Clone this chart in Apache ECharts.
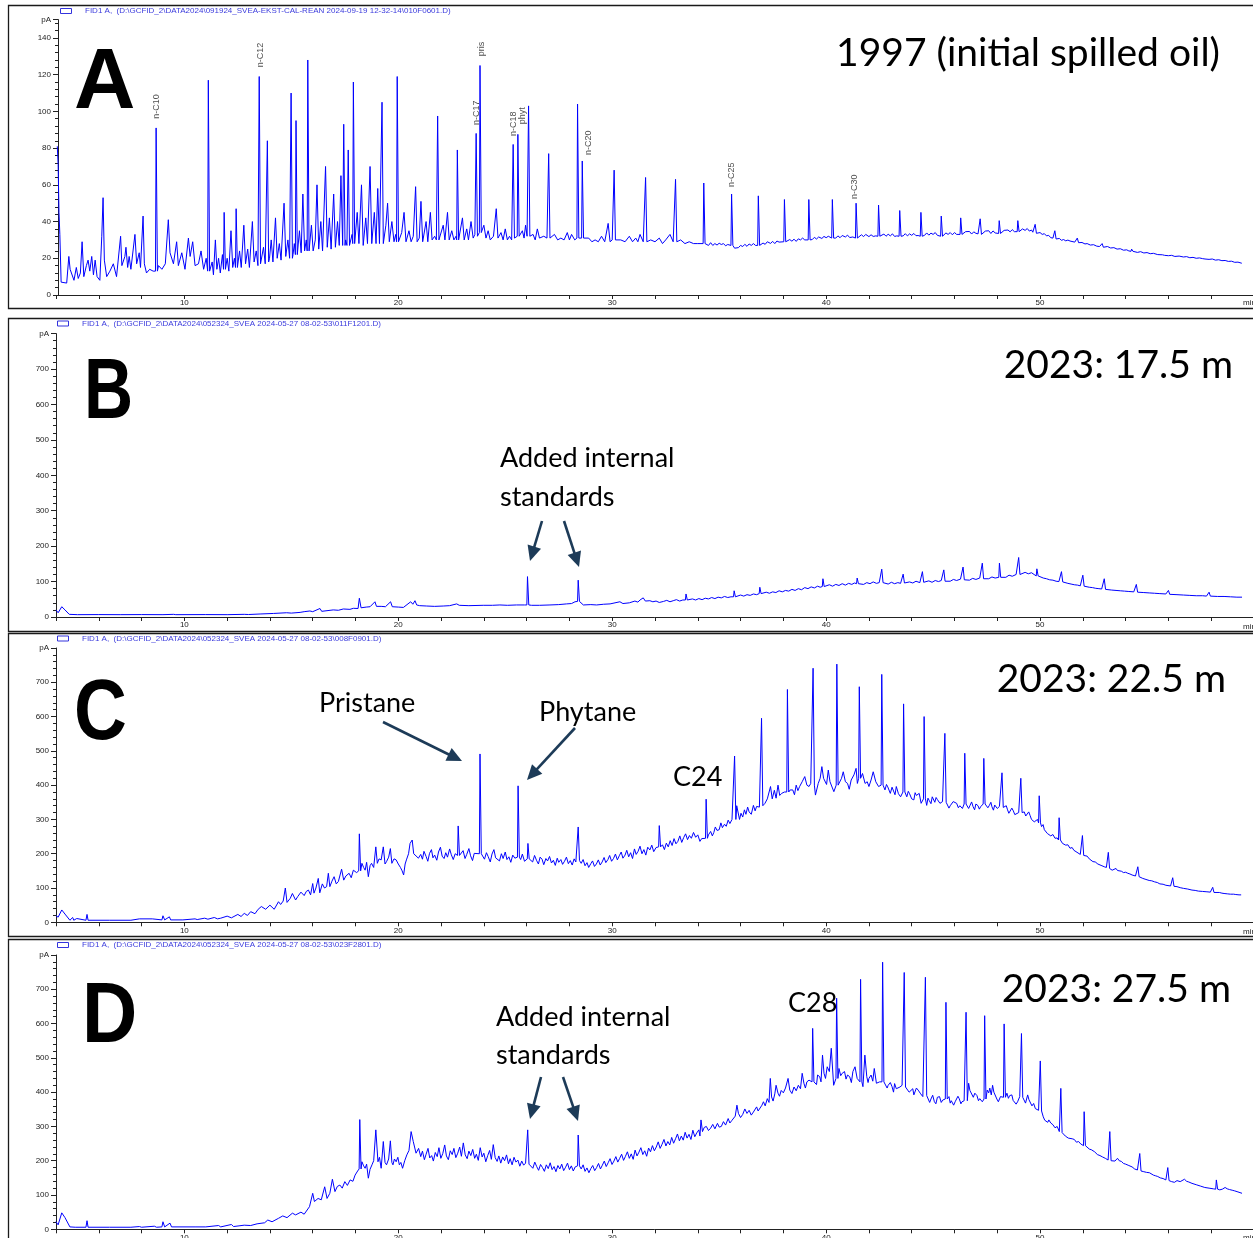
<!DOCTYPE html>
<html><head><meta charset="utf-8">
<script src="https://cdn.jsdelivr.net/npm/echarts@6/dist/echarts.min.js"></script>
<style>html,body{margin:0;padding:0;background:#fff}#c{width:1253px;height:1238px}</style>
</head><body><div id="c"></div>
<script>
// ---------- DATA ----------
const panelLetters = ['A', 'B', 'C', 'D'];
const panelTitles = ['1997 (initial spilled oil)', '2023: 17.5 m', '2023: 22.5 m', '2023: 27.5 m'];
const headerTexts = [
  'FID1 A,  (D:\\GCFID_2\\DATA2024\\091924_SVEA-EKST-CAL-REAN 2024-09-19 12-32-14\\010F0601.D)',
  'FID1 A,  (D:\\GCFID_2\\DATA2024\\052324_SVEA 2024-05-27 08-02-53\\011F1201.D)',
  'FID1 A,  (D:\\GCFID_2\\DATA2024\\052324_SVEA 2024-05-27 08-02-53\\008F0901.D)',
  'FID1 A,  (D:\\GCFID_2\\DATA2024\\052324_SVEA 2024-05-27 08-02-53\\023F2801.D)'
];
const xMin = 4, xMax = 60, xInterval = 2;
const yMaxA = 150, yIntervalA = 20;
const yMaxBCD = 800, yIntervalBCD = 100;

// baseline traces [time (min), signal (pA)]
const baseA = [
[4.06,81],[4.1,71],[4.14,45],[4.18,33],[4.24,7],[4.5,6.5],[4.6,21],[4.66,14],[4.74,13],[4.84,8],[4.95,15],[5.04,9],[5.14,12],[5.22,29],[5.3,10],[5.42,16],[5.5,19],[5.58,13],[5.67,21],[5.75,11],[5.83,19],[5.92,10],[6.05,8],[6.14,32],[6.2,53],[6.26,19],[6.37,10],[6.52,13],[6.68,17],[6.83,10],[7.02,32],[7.08,16],[7.22,21],[7.27,26],[7.35,15],[7.42,21],[7.5,14],[7.69,33],[7.77,17],[7.89,23],[7.95,15],[8.07,43],[8.13,17],[8.23,12],[8.38,14],[8.54,13],[8.79,16],[8.95,14],[9.11,17],[9.25,41],[9.33,23],[9.49,17],[9.64,29],[9.72,16],[9.88,23],[10.03,14],[10.19,31],[10.27,21],[10.39,29],[10.5,16],[10.66,17],[10.78,24],[10.9,14],[11.02,20],
[11.22,12],[11.3,18],[11.36,11],[11.45,30],[11.52,14],[11.6,20],[11.68,12],[11.78,22],[11.94,14],[12.0,20],[12.08,13],[12.18,35],[12.26,15],[12.34,20],[12.5,14],[12.58,24],[12.66,15],[12.78,38],[12.86,17],[12.96,25],[13.04,15],[13.18,40],[13.26,18],[13.36,24],[13.44,16],[13.6,18],[13.7,26],[13.78,17],[13.98,20],[14.06,30],[14.14,18],[14.26,42],[14.34,20],[14.44,28],[14.52,19],[14.66,50],[14.74,21],[14.84,30],[14.92,20],[15.08,22],[15.14,28],[15.3,22],[15.38,35],[15.46,23],[15.54,55],[15.62,24],[15.7,30],[15.86,25],[15.94,38],[16.02,24],[16.12,30],[16.2,60],[16.28,25],[16.38,40],[16.46,24],[16.6,70],[16.68,26],[16.78,42],[16.86,25],[16.98,55],[17.06,26],[17.16,40],[17.24,27],[17.32,65],[17.4,27],[17.54,30],[17.6,27],[17.76,28],[17.84,33],[17.98,28],[18.08,45],[18.16,28],[18.28,60],[18.36,27],[18.48,42],[18.56,28],[18.68,70],[18.76,28],[18.88,45],[18.96,28],[19.04,58],[19.12,28],[19.34,29],[19.42,38],[19.5,50],[19.58,29],[19.7,40],[19.8,29],[19.88,33],[20.06,29],[20.16,34],[20.27,45],[20.36,29],[20.5,35],[20.6,29],[20.7,32],[20.81,59],[20.88,29],[20.98,31],[21.06,51],[21.14,29],[21.3,40],[21.38,29],[21.5,45],[21.58,30],[21.7,32],[21.78,30],[21.96,30],[22.1,38],[22.18,30],[22.3,45],[22.38,30],[22.5,35],[22.6,30],[22.7,32],[22.86,30],[23.0,42],[23.08,30],[23.2,36],[23.28,30],[23.4,40],[23.5,31],[23.58,33],[23.92,33],[24.0,38],[24.1,31],[24.2,35],[24.3,30],[24.45,32],[24.58,47],[24.66,31],[24.8,34],[24.9,30],[25.0,36],[25.1,30],[25.2,32],[25.3,30],[25.7,31],[25.8,35],[25.88,31],[25.95,38],[26.02,32],[26.2,31],[26.3,33],[26.4,30],[26.5,36],[26.6,31],[26.8,32],[26.95,31],[27.12,31],[27.3,33],[27.45,30],[27.6,31],[27.75,30],[27.9,34],[28.0,30],[28.1,33],[28.25,30],[28.72,30],[28.9,31],[29.05,29],[29.2,30],[29.35,29],[29.5,32],[29.65,29],[29.81,39],[29.9,29],[30.0,30],[30.2,29],[30.4,30],[30.6,29],[30.8,32],[30.95,29],[31.1,31],[31.2,29],[31.3,33],[31.45,29],[31.68,29],[31.8,30],[32.0,29],[32.2,31],[32.35,28],[32.5,30],[32.7,33],[32.85,29],[33.08,29],[33.2,30],[33.4,28],[33.6,29],[33.8,28],[34.0,28],[34.15,28],
[34.4,28],[34.5,27],[34.6,28.5],[34.7,27],[34.8,28],[34.9,27.2],[35.0,28.2],[35.1,27.5],[35.2,28],[35.3,26.8],[35.4,27.5],[35.72,25.5],[35.8,26.5],[35.9,25.8],[36.0,27],[36.1,26.4],[36.2,27.6],[36.3,26.5],[36.4,27.8],[36.5,27],[36.6,28],[36.7,27],[36.96,27],[37.05,28.3],[37.15,27.6],[37.25,29],[37.4,28.1],[37.5,29.2],[37.6,28],[37.7,29.4],[37.8,28.8],[38.2,29],[38.3,30.2],[38.4,29.3],[38.5,30.4],[38.6,29.2],[38.7,30.6],[38.8,30],[38.9,31],[39.0,30],[39.35,30.2],[39.45,31.4],[39.55,30.5],[39.65,31.6],[39.8,30.8],[39.9,31.9],[40.0,31.2],[40.1,32],[40.15,31],[40.45,31],[40.55,32.2],[40.65,31.2],[40.75,32.4],[40.9,31.6],[41.0,32.6],[41.1,31.3],[41.25,31.6],[41.55,31.5],[41.65,32.8],[41.75,31.8],[41.85,33],[42.0,31.8],[42.1,32.8],[42.2,31.9],[42.32,32.2],[42.6,32],[42.7,33.2],[42.8,32],[42.9,33.1],[43.0,32.2],[43.1,33.3],[43.2,31.9],[43.3,32.2],[43.6,32.2],[43.7,33.4],[43.8,32.2],[43.9,33.3],[44.0,32.5],[44.1,33.5],[44.2,32.3],[44.3,32.4],[44.6,32.5],[44.7,33.8],[44.8,32.6],[44.9,33.7],[45.0,33],[45.1,34],[45.2,32.5],[45.26,32.5],[45.5,32.4],[45.6,33.8],[45.7,33],[45.8,34],[45.9,32.8],[46.0,34],[46.1,33],[46.18,33],[46.42,33.2],[46.52,34.5],[46.6,33.5],[46.7,34.6],[46.8,33.2],[46.9,34.4],[47.0,33.6],[47.1,33.3],[47.34,33.4],[47.44,34.8],[47.5,33.9],[47.6,35],[47.7,33.5],[47.8,34.9],[47.9,33.8],[47.98,33.5],[48.22,33.8],[48.32,35.2],[48.4,34.2],[48.5,35.4],[48.6,34.4],[48.7,35.6],[48.8,34.5],[48.86,34.5],[49.08,34.7],[49.18,36],[49.3,35.2],[49.4,36.2],[49.5,34.8],[49.6,35.4],[49.66,34.2],[49.9,33.2],[50.0,34],[50.1,33],[50.2,33.4],[50.3,32.2],[50.4,32.5],[50.5,31.2],[50.6,31],[50.8,30.2],[50.9,30.8],[51.0,29.8],[51.1,30.2],[51.2,29.5],[51.3,29.9],[51.4,29.4],[51.62,28.8],[51.86,28.2],[51.96,28.6],[52.1,27.8],[52.2,28],[52.35,27.2],[52.5,27.4],[52.65,26.6],[52.78,26.4],[53.0,26.2],[53.15,26.4],[53.3,25.6],[53.45,25.8],[53.6,25],[53.75,25.2],[53.9,24.4],[54.05,24.6],[54.15,24],[54.4,23.8],[54.55,23.2],[54.7,23.6],[54.85,22.9],[55.0,23.1],[55.15,22.5],[55.3,22.7],[55.5,22],[55.72,21.9],[56.0,21.4],[56.15,21.6],[56.3,21],[56.5,21.2],[56.7,20.7],[56.85,20.9],[57.0,20.3],[57.15,20.5],[57.3,20],[57.45,20.2],[57.6,19.8],[57.9,19.4],[58.05,19.6],[58.2,19],[58.35,19.2],[58.5,18.7],[58.65,18.8],[58.8,18.3],[58.95,18.4],[59.1,17.8],[59.25,17.9],[59.43,17.3]
];
// sharp peaks [time, apex, base]
const peaksA = [
[8.68,91,13],[11.12,117,13],[11.86,45,14],[12.42,47,15],[13.5,119,17],[13.88,84,18],[14.99,110,20],[15.22,95,22],[15.77,128,24],[17.45,93,27],[17.66,79,27],[17.9,116,28],[19.24,105,28],[19.95,119,29],[21.84,97.5,30],[22.76,79,30],[23.64,88,32],[23.82,125,34],[25.37,82,31],[25.59,87.5,32],[26.09,103,32],[27.03,77,31],[28.38,104,31],[28.6,73,31],[30.09,68,30],[31.56,64,29],[32.96,63,29],[34.28,61,28],[35.58,55,27],[36.83,54,27],[38.05,52,29],[39.19,52,30],[40.29,52,31],[41.40,50,31],[42.45,49,32],[43.44,46,32],[44.43,45,32],[45.38,43,32],[46.29,42,33],[47.20,41.5,33],[48.09,40.5,33.5],[48.96,40.5,34.5],[49.77,38.5,33.6],[50.69,35,30.5],[51.74,31,28.5],[52.9,28,26],[54.28,25,23.8],[55.85,22.5,21.6],[57.74,20.5,19.6]
];
// peak name labels of panel A [time, signal at label foot, name]
const labelsA = [[8.72,96,'n-C10'],[13.55,124,'n-C12'],[23.87,130,'pris'],[23.64,92.6,'n-C17'],[25.37,86.6,'n-C18'],[25.79,93,'phyt'],[28.87,76.3,'n-C20'],[35.59,58.8,'n-C25'],[41.34,52.3,'n-C30']];

const baseB = [
[4.0,20],[4.1,12],[4.27,29],[4.42,20],[4.62,7.5],[5.0,6.6],[6,6.8],[7,6.6],[8,6.8],[9,6.6],[9.5,7.5],[9.6,6.6],[11,6.8],[12,6.6],[12.8,7.5],[13.0,7],[13.54,8.5],[14.16,10],[14.78,12],[15.0,11],[15.41,13],[15.6,15],[15.87,17],[16.0,15],[16.34,24],[16.42,16],[16.96,20],[17.2,19],[17.43,22.6],[17.74,21.6],[17.9,24.5],[18.12,24],[18.18,53],[18.26,26],[18.5,28],[18.68,29],[18.91,43],[18.98,30],[19.2,30],[19.4,29],[19.64,43],[19.72,29],[20.0,28],[20.24,27],[20.58,43],[20.68,36],[20.78,46],[20.86,34],[21.0,32],[21.33,31],[21.7,30],[22.1,31],[22.4,32],[22.73,37],[22.85,33],[23.3,32],[23.97,33],[24.4,33],[24.75,34],[25.1,33],[25.53,34],[25.9,34],
[26.23,33],[26.6,33],[27.09,34],[27.5,35],[27.87,37],[28.1,38],[28.26,43],[28.52,48],[28.65,34],[29.0,35],[29.27,34],[29.6,36],[29.9,37],[30.36,43],[30.5,38],[30.8,40],[31.06,45],[31.2,42],[31.3,48],[31.45,54],[31.55,45],
[31.76,46],[31.9,43],[32.05,45],[32.2,41],[32.4,44],[32.55,47],[32.7,43],[32.85,46],[33.0,49],[33.15,45],[33.3,48],[33.6,47],[33.75,51],[33.9,48],[34.05,52],[34.2,49],[34.35,53],[34.5,51],[34.65,55],[34.8,52],[34.95,56],[35.1,54],[35.25,58],[35.4,55],[35.55,57],[35.85,58],[36.0,62],[36.15,59],[36.3,63],[36.45,61],[36.6,65],[36.75,63],[37.05,66],[37.2,70],[37.35,67],[37.5,71],[37.65,69],[37.8,74],[37.95,71],[38.1,75],[38.25,73],[38.4,78],[38.55,75],[38.7,80],[38.85,77],[39.0,83],[39.15,80],[39.3,85],[39.45,82],[39.6,87],[39.72,84],
[40.0,88],[40.15,91],[40.3,87],[40.45,92],[40.6,89],[40.75,94],[40.9,90],[41.05,95],[41.2,92],[41.32,96],[41.6,95],[41.75,92],[41.9,97],[42.05,94],[42.2,99],[42.35,95],[42.48,97],[42.75,96],[42.9,93],[43.05,98],[43.2,94],[43.35,97],[43.48,95],[43.75,94],[43.9,99],[44.05,96],[44.2,101],[44.38,97],[44.65,99],[44.8,102],[44.95,98],[45.1,103],[45.25,100],[45.38,103],[45.65,104],[45.8,101],[45.95,106],[46.1,103],[46.28,107],[46.55,107],[46.7,104],[46.85,109],[47.0,106],[47.18,110],[47.45,111],[47.6,108],[47.75,113],[47.9,110],[47.98,114],[48.25,115],[48.4,112],[48.55,118],[48.7,115],[48.88,120],[49.15,123],[49.3,126],[49.45,122],[49.6,125],[49.72,120],
[50.0,113],[50.15,110],[50.3,108],[50.45,105],[50.6,104],[50.75,101],[50.88,100],[51.15,97],[51.3,95],[51.45,93],[51.6,91],[51.75,90],[51.88,88],[52.15,86],[52.3,84],[52.45,83],[52.6,81],[52.75,80],[52.88,79],[53.15,77],[53.35,76],[53.55,75],[53.75,74],[53.95,73],[54.15,72],[54.38,71],[54.65,70],[54.85,69],[55.1,68],[55.35,67],[55.6,66],[55.88,65],[56.15,64],[56.4,63],[56.7,62],[57.0,61],[57.3,60],[57.6,60],[57.78,59],[58.05,59],[58.3,58],[58.6,58],[58.9,57],[59.2,56],[59.44,56]
];
const peaksB = [
[26.04,114,34],[28.41,104,44],[33.45,65,48],[35.7,74,57],[36.9,84,66],[39.85,108,86],[41.45,110,94],[42.6,135,97],[43.6,121,96],[44.5,128,98],[45.5,133,101],[46.4,141,105],[47.3,152,108],[48.1,152,112],[49.0,168,120],[49.85,136,116],[51.0,128,99],[52.0,118,87],[53.0,108,78],[54.5,92,70],[56.0,75,64],[57.9,70,59]
];

const baseC = [
[4.0,19],[4.1,15],[4.27,36],[4.42,24],[4.65,6],[4.78,14],[4.83,6],[4.97,11],[5.02,6],[5.4,6],[5.45,23],[5.5,6],[6.5,6],[7.5,6],[7.9,10],[7.95,6],[8.5,10],[8.55,6],[8.95,7],[9.0,19],[9.08,7],[9.3,16],[9.36,7],[9.93,7],[10.5,10],[10.6,8],[10.95,12],[11.1,9],[11.4,14],[11.55,10],[11.7,12],[12.0,18],[12.2,13],[12.5,23],[12.65,17],[12.8,26],[12.95,20],[13.1,31],[13.3,25],[13.45,38],[13.6,46],[13.8,38],[14.0,50],[14.2,38],[14.4,60],[14.5,52],[14.62,62],[14.72,100],[14.8,58],[14.95,70],[15.05,84],[15.2,65],[15.3,75],[15.45,88],[15.6,78],[15.7,90],[15.8,94],[15.9,80],[16.0,113],[16.06,85],[16.15,100],[16.26,128],[16.33,86],[16.45,112],[16.55,100],[16.65,104],[16.73,143],[16.8,104],[16.9,120],[17.0,133],[17.1,112],[17.2,119],[17.35,155],[17.45,123],[17.55,135],[17.7,143],[17.8,130],[17.9,152],[18.05,145],
[18.3,172],[18.38,160],[18.45,152],[18.52,175],[18.6,133],[18.68,165],[18.75,172],[18.85,160],[18.95,220],[19.02,172],[19.1,185],[19.2,182],[19.3,220],[19.38,170],[19.45,177],[19.55,190],[19.63,215],[19.7,172],[19.8,185],[19.9,182],[20.0,170],[20.1,160],[20.18,150],[20.25,138],[20.32,170],[20.38,182],[20.48,200],[20.55,230],[20.65,240],[20.72,200],[20.78,201],[20.94,187],
[21.05,198],[21.13,184],[21.2,207],[21.3,192],[21.38,178],[21.46,201],[21.55,212],[21.62,188],[21.7,196],[21.8,181],[21.88,205],[21.97,219],[22.05,193],[22.14,186],[22.22,203],[22.3,190],[22.4,214],[22.48,197],[22.57,183],[22.66,200],[22.95,192],[23.03,209],[23.12,186],[23.2,198],[23.3,215],[23.38,194],[23.47,180],[23.55,201],[23.64,206],[23.95,196],[24.03,184],[24.12,203],[24.2,192],[24.3,176],[24.38,199],[24.47,212],[24.55,188],[24.64,193],[24.73,179],[24.82,200],[24.9,186],[25.0,205],[25.08,183],[25.17,191],[25.26,175],[25.35,196],[25.45,187],[25.72,183],[25.8,199],[25.9,178],
[26.2,188],[26.28,176],[26.37,195],[26.46,181],[26.55,170],[26.63,190],[26.72,184],[26.8,168],[26.9,186],[26.98,179],[27.07,192],[27.16,173],[27.25,181],[27.34,166],[27.43,187],[27.5,175],[27.6,183],[27.68,169],[27.77,178],[27.86,190],[27.95,171],[28.04,180],[28.13,167],[28.22,185],[28.3,176],[28.55,172],[28.64,183],[28.73,165],[28.82,174],[28.9,160],[29.0,171],[29.08,179],[29.17,163],[29.26,170],[29.35,182],[29.44,167],[29.53,176],[29.62,189],[29.7,174],[29.8,183],[29.88,195],[29.97,178],[30.06,186],[30.15,199],[30.24,182],[30.33,194],[30.42,205],[30.5,187],[30.6,196],[30.68,210],[30.77,191],[30.86,203],[30.95,186],[31.04,214],[31.12,198],[31.21,207],[31.3,222],[31.39,200],[31.48,212],[31.57,196],[31.66,219],[31.76,211],[31.85,225],[31.94,206],[32.05,218],
[32.35,226],[32.44,212],[32.53,231],[32.62,220],[32.71,238],[32.8,224],[32.89,244],[32.98,229],[33.07,236],[33.16,252],[33.25,233],[33.34,247],[33.43,258],[33.52,241],[33.61,253],[33.7,245],[33.8,262],[33.9,248],[34.0,255],[34.1,236],[34.18,244],[34.5,255],[34.6,265],[34.68,252],[34.75,262],[34.82,278],[34.9,268],[35.0,270],[35.08,290],[35.15,276],[35.25,286],[35.33,280],[35.42,298],[35.5,288],[35.6,300],[35.82,340],[35.95,300],[36.02,318],[36.1,307],[36.18,328],[36.25,315],[36.33,336],[36.4,322],[36.5,315],[36.6,341],[36.68,325],[36.75,338],[36.88,336],
[37.14,347],[37.25,360],[37.4,396],[37.48,360],[37.58,385],[37.66,362],[37.75,400],[37.83,370],[37.92,376],[38.05,380],[38.32,386],[38.44,386],[38.52,372],[38.6,400],[38.68,384],[38.76,396],[38.88,410],[39.0,425],[39.1,400],[39.2,396],[39.28,405],[39.5,371],[39.63,405],[39.72,420],[39.8,454],[39.88,420],[39.95,425],[40.02,402],[40.1,444],[40.18,410],[40.27,405],[40.36,381],[40.62,396],[40.72,420],[40.8,439],[40.9,410],[41.0,405],[41.08,388],[41.17,415],[41.3,430],[41.4,449],[41.46,405],[41.7,434],[41.82,405],[41.92,410],[42.0,396],[42.1,415],[42.2,439],[42.32,410],[42.45,396],
[42.75,386],[42.82,402],[42.88,395],[43.0,376],[43.08,394],[43.15,390],[43.22,372],[43.28,396],[43.38,375],[43.48,366],[43.77,366],[43.84,382],[43.9,375],[44.0,360],[44.1,357],[44.16,378],[44.22,370],[44.35,376],[44.44,347],[44.7,341],[44.76,362],[44.82,355],[44.9,346],[44.96,366],[45.08,350],[45.14,364],[45.2,358],[45.32,347],[45.44,352],[45.69,347],[45.74,333],[45.8,340],[45.87,337],[45.94,352],[46.0,348],[46.1,347],[46.18,334],[46.25,340],[46.37,332],[46.6,347],[46.66,332],[46.72,340],[46.8,351],[46.87,337],[46.94,328],[47.0,345],[47.1,340],[47.16,330],[47.22,337],[47.5,347],[47.56,334],[47.62,340],[47.7,350],[47.75,337],[47.82,327],[47.88,342],[48.0,332],[48.1,338],[48.35,332],[48.42,340],[48.48,328],[48.54,318],[48.6,322],[48.68,333],[48.75,325],[48.82,314],[48.9,317],[49.0,320],[49.26,322],[49.33,310],[49.4,315],[49.47,322],[49.53,312],[49.6,300],[49.66,305],[49.73,293],[49.8,298],[49.88,300],
[50.07,279],[50.14,285],[50.2,270],[50.27,274],[50.34,259],[50.42,262],[50.5,252],[50.6,256],[50.7,245],[50.8,246],[51.05,230],[51.12,234],[51.2,225],[51.3,226],[51.4,216],[51.5,218],[51.58,210],[51.68,206],[51.76,201],[51.88,198],[52.12,191],[52.2,193],[52.3,185],[52.38,186],[52.47,177],[52.58,176],[52.7,170],[52.78,171],[52.85,166],[53.0,162],[53.1,160],[53.37,152],[53.55,157],[53.62,151],[53.7,148],[53.8,149],[53.9,145],[54.0,146],[54.1,143],[54.2,141],[54.3,138],[54.46,135],[54.8,128],[54.95,125],[55.1,122],[55.22,121],[55.35,118],[55.48,116],[55.6,112],[55.75,111],[55.88,108],[56.1,106],[56.4,104],[56.55,101],[56.7,99],[56.9,97],[57.1,94],[57.25,93],[57.4,91],[57.6,90],[57.8,89],[57.96,88],[58.38,87],[58.5,85],[58.6,84],[58.75,83],[58.9,82],[59.05,82],[59.15,81],[59.3,80],[59.4,80]
];
const peaksC = [
[18.18,258,150],[22.8,281,195],[23.82,491,200],[25.6,398,190],[26.06,230,185],[28.41,278,180],[32.2,282,220],[34.39,359,245],[35.72,485,300],[36.98,595,340],[38.19,679,380],[39.39,741,400],[40.5,753,400],[41.55,687,420],[42.6,723,400],[43.62,637,380],[44.58,600,360],[45.55,551,350],[46.48,493,345],[47.37,478,345],[48.22,436,335],[49.1,420,320],[49.96,369,290],[50.89,305,240],[51.98,253,195],[53.19,204,157],[54.57,162,133],[56.2,130,105],[58.07,102,87]
];

const baseD = [
[4.0,22],[4.1,13],[4.27,48],[4.42,34],[4.65,7],[4.9,6],[5.4,6],[5.45,25],[5.5,6],[6.5,6],[7.5,6],[7.9,8],[8.0,6],[8.6,9],[8.7,6],[8.95,7],[9.0,22],[9.08,7],[9.33,18],[9.4,7],[10.5,7],[11.0,7],[11.6,11],[11.7,7],[12.2,14],[12.3,8],[12.8,12],[13.1,11],[13.4,16],[13.75,19],[13.9,27],[14.1,22],[14.4,32],[14.6,39],[14.8,34],[15.05,47],[15.2,42],[15.45,50],[15.6,44],[15.85,66],[16.0,105],[16.08,81],[16.25,90],[16.4,86],[16.56,124],[16.67,90],[16.8,105],[16.92,146],[17.04,110],[17.15,125],[17.27,129],[17.38,120],[17.5,139],[17.62,128],[17.75,144],[17.88,140],[17.98,158],[18.1,170],
[18.3,197],[18.38,185],[18.45,178],[18.52,190],[18.6,149],[18.68,175],[18.77,188],[18.85,200],[18.95,290],[19.05,197],[19.12,210],[19.2,178],[19.3,256],[19.38,195],[19.45,188],[19.55,205],[19.63,258],[19.7,195],[19.75,188],[19.82,205],[19.9,197],[19.98,210],[20.05,188],[20.12,195],[20.2,178],[20.3,200],[20.4,217],[20.5,230],[20.6,285],[20.7,256],[20.83,222],[20.95,236],
[21.05,212],[21.13,228],[21.22,203],[21.3,219],[21.39,236],[21.47,208],[21.56,215],[21.64,199],[21.73,224],[21.82,212],[21.9,238],[21.99,207],[22.08,221],[22.17,246],[22.25,214],[22.34,203],[22.43,229],[22.52,218],[22.6,236],[22.69,209],[22.78,222],[22.87,240],[22.95,213],[23.04,252],[23.13,217],[23.22,206],[23.3,228],[23.39,215],[23.48,233],[23.57,207],[23.65,219],[23.74,201],[23.83,238],[23.92,211],[24.0,222],[24.09,197],[24.18,215],[24.27,230],[24.35,204],[24.44,247],[24.53,209],[24.62,198],[24.7,214],[24.79,193],[24.88,211],[24.97,200],[25.06,217],[25.15,191],[25.23,206],[25.32,188],[25.41,210],[25.5,196],[25.59,202],[25.68,184],[25.77,199],[25.86,187],[25.95,193],
[26.2,191],[26.29,178],[26.38,196],[26.47,183],[26.56,172],[26.65,189],[26.74,180],[26.83,169],[26.92,188],[27.01,177],[27.1,194],[27.19,174],[27.28,183],[27.37,168],[27.46,186],[27.55,176],[27.64,190],[27.73,171],[27.82,181],[27.91,193],[28.0,174],[28.09,185],[28.18,170],[28.27,182],[28.55,176],[28.64,188],[28.73,169],[28.82,179],[28.91,165],[29.0,177],[29.09,186],[29.18,171],[29.27,180],[29.36,192],[29.45,176],[29.54,187],[29.63,199],[29.72,183],[29.81,194],[29.9,206],[29.99,189],[30.08,199],[30.17,212],[30.26,196],[30.35,207],[30.44,219],[30.53,201],[30.62,213],[30.71,226],[30.8,207],[30.89,220],[30.98,204],[31.07,231],[31.16,214],[31.25,225],[31.34,238],[31.43,218],[31.52,229],[31.61,213],[31.7,237],[31.79,226],[31.88,244],[31.97,229],[32.06,240],[32.15,255],[32.24,236],[32.33,248],[32.42,262],[32.51,243],[32.6,256],[32.69,246],[32.78,268],[32.87,251],[32.96,264],[33.05,278],[33.14,258],[33.23,272],[33.32,260],[33.41,283],[33.5,266],[33.59,277],[33.68,262],[33.77,289],[33.86,270],[33.95,281],[34.05,290],[34.1,272],[34.15,319],[34.22,285],
[34.3,297],[34.4,300],[34.5,288],[34.6,295],[34.7,306],[34.8,293],[34.92,309],[35.0,298],[35.1,300],[35.2,314],[35.3,304],[35.42,323],[35.5,310],[35.6,318],[35.75,330],[35.83,362],[35.9,338],[36.0,326],[36.1,335],[36.2,351],[36.3,338],[36.4,347],[36.5,333],[36.6,342],[36.75,357],[36.82,345],[36.9,350],[37.0,362],[37.07,372],[37.15,360],[37.25,381],[37.33,370],[37.39,440],[37.45,386],[37.52,374],[37.6,395],[37.66,420],[37.75,397],[37.82,388],[37.9,405],[38.0,398],[38.1,412],[38.22,440],[38.3,406],[38.4,396],[38.5,415],[38.6,404],[38.7,420],[38.8,410],[38.88,455],[38.96,426],[39.03,412],[39.1,430],[39.2,435],
[39.5,435],[39.55,422],[39.6,450],[39.7,445],[39.76,430],[39.83,508],[39.9,455],[39.97,440],[40.05,474],[40.15,460],[40.24,528],[40.35,420],[40.6,469],[40.68,448],[40.75,455],[40.86,460],[40.93,438],[41.0,450],[41.1,445],[41.18,428],[41.25,460],[41.35,474],[41.45,440],[41.72,416],[41.81,508],[41.9,445],[41.96,428],[42.0,440],[42.1,450],[42.18,432],[42.25,469],[42.35,426],[42.5,430],[42.78,435],[42.85,412],[42.9,420],[43.0,428],[43.08,416],[43.15,400],[43.2,425],[43.28,410],[43.35,406],[43.45,415],[43.55,420],[43.8,420],[43.88,400],[43.95,405],[44.05,410],[44.1,392],[44.15,397],[44.22,412],[44.3,406],[44.42,395],[44.52,387],[44.78,387],[44.84,370],[44.9,380],[44.98,391],[45.06,372],[45.13,366],[45.2,385],[45.3,387],[45.38,370],[45.45,377],[45.52,382],[45.74,387],[45.8,368],[45.85,375],[45.96,362],[46.03,372],[46.1,375],[46.16,388],[46.22,381],[46.3,366],[46.35,372],[46.45,375],[46.66,426],[46.72,405],[46.8,400],[46.88,385],[46.95,397],[47.05,390],[47.12,375],[47.18,381],[47.3,372],[47.53,406],[47.6,398],[47.65,412],[47.72,392],[47.78,420],[47.84,400],[47.9,395],[47.98,380],[48.05,372],[48.15,387],[48.24,385],[48.45,397],[48.52,382],[48.58,390],[48.68,392],[48.74,376],[48.8,380],[48.88,365],[48.95,372],[49.05,387],[49.25,381],[49.32,368],[49.42,392],[49.48,378],[49.55,375],[49.62,360],[49.7,367],[49.78,352],[49.85,355],[49.93,347],
[50.15,328],[50.22,318],[50.3,322],[50.36,312],[50.41,319],[50.5,310],[50.6,305],[50.7,296],[50.8,300],[50.9,285],[51.1,280],[51.18,272],[51.25,275],[51.32,266],[51.4,270],[51.5,264],[51.6,262],[51.7,254],[51.8,256],[51.9,249],[51.98,246],[52.2,241],[52.3,234],[52.4,232],[52.48,228],[52.55,226],[52.68,218],[52.8,215],[52.92,211],[53.05,207],[53.18,202],[53.4,202],[53.5,199],[53.62,207],[53.7,200],[53.8,198],[53.9,192],[54.0,190],[54.15,186],[54.3,182],[54.42,176],[54.55,173],[54.85,168],[54.98,166],[55.11,165],[55.2,160],[55.3,158],[55.4,156],[55.5,154],[55.62,150],[55.75,148],[55.88,144],[56.15,139],[56.28,137],[56.4,142],[56.55,139],[56.75,146],[56.85,140],[56.95,138],[57.1,134],[57.3,130],[57.5,126],[57.7,122],[57.9,120],[58.1,118],[58.4,115],[58.52,117],[58.65,122],[58.75,118],[58.85,116],[58.98,114],[59.1,112],[59.25,109],[59.44,105]
];
const peaksD = [
[18.2,320,176],[26.05,290,190],[28.41,275,185],[39.37,586,430],[40.49,674,440],[41.61,729,430],[42.64,779,430],[43.65,749,415],[44.64,735,390],[45.6,662,380],[46.54,633,375],[47.41,623,380],[48.32,599,385],[49.13,571,385],[50.01,491,345],[50.97,411,282],[52.06,343,244],[53.26,285,200],[54.66,221,170],[55.97,180,142],[58.24,144,117]
];

// ---------- BUILD ----------
function trace(base, peaks) {
  const wl = 0.03, wr = 0.06;
  const pts = base.filter(p => !peaks.some(k => p[0] > k[0] - wl - 0.005 && p[0] < k[0] + wr + 0.005)).map(p => [p[0], p[1]]);
  peaks.forEach(k => { pts.push([k[0] - wl, k[2]], [k[0], k[1]], [k[0] + wr, k[2]]); });
  pts.sort((a, b) => a[0] - b[0]);
  return pts;
}

const AX = '#222';
const gridDefs = [
  {left: 56, top: 19.6, width: 1198, height: 275.4},
  {left: 56, top: 333.6, width: 1198, height: 283.4},
  {left: 56, top: 648, width: 1198, height: 274.3},
  {left: 56, top: 955, width: 1198, height: 274.3}
];
const grids = gridDefs.map(g => Object.assign({containLabel: false, outerBoundsMode: 'none', show: false}, g));

function xAx(i) {
  return {gridIndex: i, type: 'value', min: xMin, max: xMax, interval: xInterval,
    axisLine: {show: true, onZero: false, lineStyle: {color: AX, width: 1}},
    axisTick: {show: true, length: 4, lineStyle: {color: AX}},
    minorTick: {show: false}, splitLine: {show: false},
    axisLabel: {show: true, interval: 0, margin: 4, fontSize: 8, fontFamily: 'Liberation Sans', color: AX,
      formatter: v => (v % 10 === 0 && v < xMax) ? String(v) : ''}};
}
function yAx(i, max, intv, off) {
  return {gridIndex: i, type: 'value', min: 0, max: max, interval: intv, offset: off || 0,
    axisLine: {show: true, onZero: false, lineStyle: {color: AX, width: 1}},
    axisTick: {show: true, length: 5, lineStyle: {color: AX}},
    minorTick: {show: true, splitNumber: 5, length: 3, lineStyle: {color: AX}},
    splitLine: {show: false}, minorSplitLine: {show: false},
    axisLabel: {show: true, interval: 0, margin: 7, fontSize: 8, fontFamily: 'Liberation Sans', color: AX,
      formatter: v => v === max ? 'pA' : String(v)}};
}

function lineSeries(i, data) {
  return {type: 'line', xAxisIndex: i, yAxisIndex: i, data: data, showSymbol: false, symbol: 'none',
    lineStyle: {color: '#0000ff', width: 1}, silent: true, animation: false, z: 3};
}

const series = [
  lineSeries(0, trace(baseA, peaksA)),
  lineSeries(1, trace(baseB, peaksB)),
  lineSeries(2, trace(baseC, peaksC)),
  lineSeries(3, trace(baseD, peaksD)),
  {type: 'scatter', xAxisIndex: 0, yAxisIndex: 0, data: labelsA, symbolSize: 0, silent: true, animation: false, z: 4,
    label: {show: true, position: 'inside', rotate: 90, align: 'left', verticalAlign: 'middle',
      formatter: p => p.data[2], fontSize: 9, fontFamily: 'Liberation Sans', color: '#222'}}
];

// ---------- GRAPHICS (frames, texts, arrows) ----------
const G = [];
function txt(s, x, y, font, fill, align, sx) {
  G.push({type: 'text', x: x, y: y, scaleX: sx || 1, silent: true, z: 10,
    style: {text: s, font: font, fill: fill, textAlign: align || 'left', textVerticalAlign: 'middle', align: align || 'left', verticalAlign: 'middle'}});
}
function arrow(sx, sy, tx, ty) {
  const dx = tx - sx, dy = ty - sy, L = Math.hypot(dx, dy), ux = dx / L, uy = dy / L;
  const hl = 15, hw = 7;
  const bx = tx - ux * hl, by = ty - uy * hl;
  const col = '#1d3b58';
  G.push({type: 'line', silent: true, z: 10, shape: {x1: sx, y1: sy, x2: bx + ux * 2, y2: by + uy * 2}, style: {stroke: col, lineWidth: 2.6}});
  G.push({type: 'polygon', silent: true, z: 10, shape: {points: [[tx, ty], [bx - uy * hw, by + ux * hw], [bx + uy * hw, by - ux * hw]]}, style: {fill: col}});
}
[[8, 5, 1250, 303], [8, 318, 1250, 313], [8, 633, 1250, 303], [8, 939, 1250, 305]].forEach(f => {
  G.push({type: 'rect', silent: true, shape: {x: f[0] + 0.5, y: f[1] + 0.5, width: f[2], height: f[3]}, style: {fill: 'none', stroke: '#1a1a1a', lineWidth: 1.3}});
});
const hdrPos = [[60, 11, 85], [57, 323.5, 82], [57, 638.5, 82], [57, 945, 82]];
hdrPos.forEach((h, i) => {
  G.push({type: 'rect', silent: true, shape: {x: h[0] + 0.5, y: h[1] - 2.5, width: 11, height: 5}, style: {fill: 'none', stroke: '#3333dd', lineWidth: 1}});
  txt(headerTexts[i], h[2], h[1], '8px "Liberation Sans"', '#3b3bdd');
});
const letterPos = [[74, 85, 1.0], [84, 395, 0.8], [74, 716, 0.86], [82, 1019, 0.9]];
letterPos.forEach((p, i) => txt(panelLetters[i], p[0], p[1], 'bold 85px "Liberation Sans"', '#000', 'left', p[2]));
const titlePos = [[1220, 53], [1233, 365], [1226, 679], [1231, 989]];
titlePos.forEach((p, i) => txt(panelTitles[i], p[0], p[1], '39px Lato', '#000', 'right'));
const annFont = '27px Lato';
txt('Added internal', 500, 458, annFont, '#000');
txt('standards', 500, 497, annFont, '#000');
txt('Pristane', 319, 703, annFont, '#000');
txt('Phytane', 539, 712, annFont, '#000');
txt('C24', 673, 777, annFont, '#000');
txt('Added internal', 496, 1017, annFont, '#000');
txt('standards', 496, 1055, annFont, '#000');
txt('C28', 788, 1003, annFont, '#000');
arrow(542, 521, 530, 561); arrow(564, 521, 579, 567);
arrow(383, 722, 462, 761); arrow(575, 728, 527, 780);
arrow(541, 1077, 530, 1119); arrow(563, 1077, 578, 1121);
[303, 627, 932, 1238].forEach(y => txt('min', 1243, y, '8px "Liberation Sans"', AX));

const chart = echarts.init(document.getElementById('c'), null, {renderer: 'canvas'});
chart.setOption({
  animation: false,
  backgroundColor: '#fff',
  grid: grids,
  xAxis: [xAx(0), xAx(1), xAx(2), xAx(3)],
  yAxis: [yAx(0, yMaxA, yIntervalA, -2), yAx(1, yMaxBCD, yIntervalBCD), yAx(2, yMaxBCD, yIntervalBCD), yAx(3, yMaxBCD, yIntervalBCD)],
  series: series,
  graphic: {elements: G}
});
</script></body></html>
